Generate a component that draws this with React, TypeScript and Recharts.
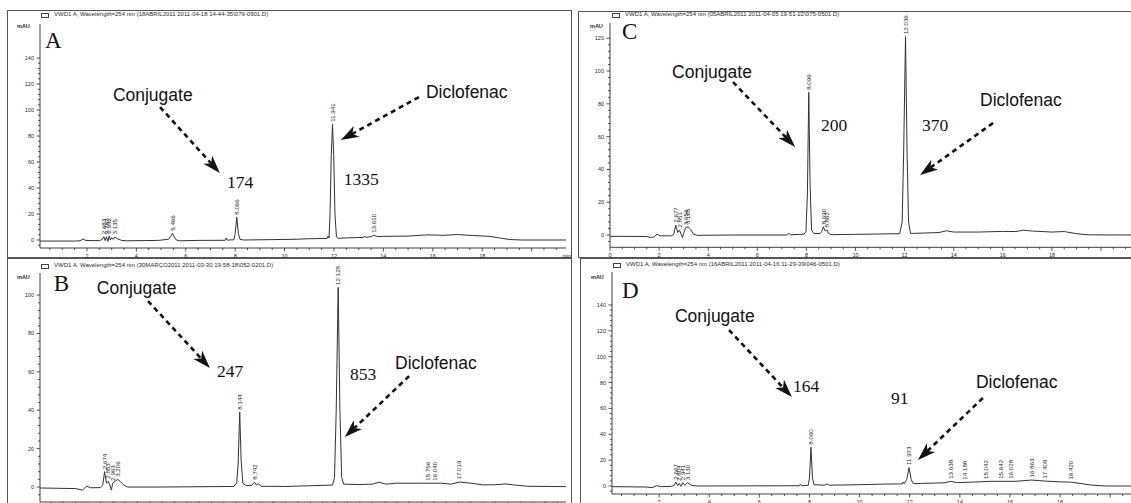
import React from "react";
import { LineChart, Line, XAxis, YAxis, ReferenceLine, ReferenceDot } from "recharts";

// ---------- data (time in min, signal in mAU) ----------
const traceA = [
  [0.1, -0.8], [1.5, -0.8], [1.72, -0.6], [1.84, 0.8], [1.96, -0.4], [2.5, -0.5], [2.6, 0.3], [2.68, 2.5], [2.74, -0.5],
  [2.79, 2.6], [2.85, -1], [2.9, 3], [2.95, 0], [3.0, 1.8], [3.05, 0.5], [3.13, 2.3], [3.25, 0.8], [3.4, -0.3], [3.6, -0.6],
  [4.9, -0.3], [5.3, 0.6], [5.4, 3], [5.466, 5.2], [5.53, 2.5], [5.62, 0], [5.75, -0.6], [6.5, -0.3], [7.6, -0.2], [7.64, 1.5],
  [7.68, -0.1], [7.95, 0.2], [8.0, 5], [8.066, 17.5], [8.13, 5], [8.2, 0.5], [8.35, 0], [9.5, 0.3], [10.5, 0.6], [11.0, 1],
  [11.72, 1.2], [11.76, 3], [11.8, 1.5], [11.84, 20], [11.89, 65], [11.941, 89], [11.99, 65], [12.04, 20], [12.1, 2.5],
  [12.16, 1.2], [12.3, 1.5], [13.2, 2], [13.24, 3], [13.28, 2], [13.5, 2.6], [13.61, 3.6], [13.75, 2.7], [14.0, 2.8],
  [15.0, 3], [15.8, 4], [16.4, 3.6], [17.0, 4.2], [17.6, 3.5], [18.3, 2.8], [18.7, 1.6], [19.1, 0.4], [19.6, 0], [21.4, 0],
];
const traceB = [
  [0.06, -0.5], [1.5, -0.8], [1.78, -1.6], [1.95, 0.5], [2.1, -0.4], [2.5, -0.3], [2.6, 1], [2.674, 8], [2.75, 2], [2.82, 3],
  [2.9, 0.5], [2.95, -1.6], [3.0, 2], [3.1, 3], [3.206, 4], [3.3, 3], [3.45, 1], [3.6, 0], [5, 0], [7.9, 0.3], [8.02, 2],
  [8.08, 12], [8.144, 39], [8.2, 14], [8.27, 2], [8.4, 0.8], [8.62, 0.8], [8.742, 2.5], [8.82, 1], [8.9, 1.8], [9.0, 0.4],
  [10, 0.3], [11.9, 1], [11.98, 5], [12.05, 40], [12.128, 104], [12.2, 40], [12.27, 5], [12.35, 1.5], [13, 1.3], [13.5, 1.5],
  [13.8, 2.5], [14.05, 1.5], [14.5, 2], [15.5, 2], [16.3, 2], [16.7, 1.5], [17.05, 2.6], [17.5, 2], [18.0, 1.1], [18.5, 1.2],
  [18.9, 1.6], [19.3, 1], [19.8, 0.4], [21.35, 0.2],
];
const traceC = [
  [0, -0.8], [1.5, -0.9], [1.65, -1.6], [1.78, -1.2], [1.92, 0.4], [2.05, -0.5], [2.5, -0.5], [2.6, 0.5], [2.677, 6],
  [2.76, 1.5], [2.83, 3], [2.9, 0.5], [2.95, -1.6], [3.0, 1], [3.08, 4.5], [3.18, 5], [3.28, 3.5], [3.4, 0.5], [3.55, -0.2],
  [5, 0], [7.2, 0], [7.28, 1], [7.36, 0.1], [7.9, 0.5], [7.98, 2], [8.04, 25], [8.096, 87], [8.15, 30], [8.21, 3], [8.3, 1],
  [8.55, 0.8], [8.62, 2], [8.69, 5], [8.76, 2.5], [8.84, 3], [8.9, 1], [9.0, 0.2], [10, 0.4], [11.8, 0.8], [11.9, 8],
  [11.96, 50], [12.036, 121], [12.1, 50], [12.16, 8], [12.24, 1], [12.4, 1], [13.4, 1.5], [13.7, 2.6], [14.0, 1.8],
  [15, 1.8], [16, 2.2], [16.5, 2.1], [16.85, 2.9], [17.2, 2.4], [18, 1.8], [18.5, 2.1], [19.0, 0.8], [19.5, 0.1], [21.22, 0],
];
const traceD = [
  [0.12, -0.5], [1.5, -0.8], [1.72, -1.3], [1.9, 0.3], [2.05, -0.5], [2.5, -0.3], [2.6, 0.5], [2.667, 3], [2.74, 0.3],
  [2.8, 2], [2.87, -0.3], [2.94, 2.5], [3.02, 0.5], [3.13, 2.5], [3.3, 0.5], [3.5, 0], [7.6, 0.2], [7.64, 1.5], [7.68, 0.2],
  [7.95, 0.6], [8.0, 6], [8.06, 30], [8.12, 6], [8.18, 1], [8.6, 0.6], [8.7, 1.5], [8.8, 0.6], [10, 1], [11.0, 1.5],
  [11.7, 1.6], [11.74, 3], [11.78, 1.8], [11.88, 5], [11.973, 14.3], [12.06, 5], [12.14, 1.8], [12.5, 2], [13.4, 2.5],
  [13.638, 3.6], [13.9, 2.6], [14.5, 3], [15.2, 3.6], [16.2, 3.6], [16.863, 4.6], [17.4, 3.8], [18.0, 3.2], [18.42, 3],
  [18.8, 2], [19.3, 0.6], [19.8, 0], [20.83, 0],
];

// peak retention-time labels: [time, apex mAU, text]
const peaksA = [[2.68, 2.5, "2.683"], [2.79, 2.6, "2.782"], [2.9, 3, "2.932"], [3.13, 2.3, "3.135"], [5.466, 5.2, "5.466"],
  [8.066, 17.5, "8.066"], [11.941, 89, "11.941"], [13.61, 3.6, "13.610"]];
const peaksB = [[2.674, 8, "2.674"], [2.82, 3, "2.853"], [3.0, 2, "2.963"], [3.206, 4, "3.206"], [8.144, 39, "8.144"],
  [8.742, 2.5, "8.742"], [12.128, 104, "12.128"], [15.756, 2, "15.756"], [16.04, 2, "16.040"], [17.019, 2.6, "17.019"]];
const peaksC = [[2.677, 6, "2.677"], [2.83, 3, "2.851"], [3.08, 4.5, "3.056"], [3.18, 5, "3.165"], [8.096, 87, "8.096"],
  [8.69, 5, "8.690"], [8.84, 3, "8.862"], [12.036, 121, "12.036"]];
const peaksD = [[2.667, 3, "2.667"], [2.8, 2, "2.804"], [2.94, 2.5, "2.941"], [3.13, 2.5, "3.130"], [8.06, 30, "8.060"],
  [11.973, 14.3, "11.973"], [13.638, 3.6, "13.638"], [14.188, 3, "14.188"], [15.042, 3.5, "15.042"], [15.642, 3.6, "15.642"],
  [16.028, 3.6, "16.028"], [16.863, 4.6, "16.863"], [17.408, 3.8, "17.408"], [18.42, 3, "18.420"]];

// annotation texts: [time, mAU (baseline), text, kind]
const notesA = [[0.3, 147.7, "A", "letter"], [3.05, 107.2, "Conjugate", "name"], [7.67, 40, "174", "num"],
  [15.72, 109.2, "Diclofenac", "name"], [12.4, 42.3, "1335", "num"]];
const notesB = [[0.62, 102.1, "B", "letter"], [2.36, 100.5, "Conjugate", "name"], [7.22, 57.3, "247", "num"],
  [14.43, 61.5, "Diclofenac", "name"], [12.61, 55.7, "853", "num"]];
const notesC = [[0.49, 119.5, "C", "letter"], [2.53, 95.7, "Conjugate", "name"], [8.59, 63.4, "200", "num"],
  [15.07, 78.7, "Diclofenac", "name"], [12.71, 63.4, "370", "num"]];
const notesD = [[0.52, 145.4, "D", "letter"], [2.63, 126.8, "Conjugate", "name"], [7.34, 72.7, "164", "num"],
  [14.64, 75.8, "Diclofenac", "name"], [11.25, 63.4, "91", "num"]];

// arrows: [t1, v1, t2 (tip), v2 (tip)]
const arrowsA = [[4.96, 102.3, 7.38, 51.5], [15.44, 110, 12.28, 76.9]];
const arrowsB = [[4.43, 96.9, 6.94, 62], [15.0, 57.8, 12.4, 26]];
const arrowsC = [[5.01, 93.3, 7.54, 53.7], [15.6, 68.3, 12.63, 36.6]];
const arrowsD = [[4.79, 120.6, 7.3, 68.8], [14.92, 68.1, 12.33, 20.1]];

const titleA = "VWD1 A, Wavelength=254 nm (18ABRIL2011 2011-04-18 14-44-35\\079-0901.D)";
const titleB = "VWD1 A, Wavelength=254 nm (30MARÇO2011 2011-03-30 19-58-18\\052-0201.D)";
const titleC = "VWD1 A, Wavelength=254 nm (05ABRIL2011 2011-04-05 19-51-22\\075-0501.D)";
const titleD = "VWD1 A, Wavelength=254 nm (16ABRIL2011 2011-04-16 11-29-39\\046-0501.D)";

const xLabelValues = [0, 2, 4, 6, 8, 10, 12, 14, 16, 18];
const yLabelStep = 20;

const SANS = "'Liberation Sans', Arial, sans-serif";
const SERIF = "'Liberation Serif', 'Times New Roman', serif";
const INK = "#2a2a2a";

const range = (a: number, b: number, s: number) => {
  const out: number[] = [];
  for (let v = a; v <= b + 1e-9; v += s) out.push(Math.round(v * 1000) / 1000);
  return out;
};

type PanelCfg = {
  trace: number[][]; peaks: any[]; notes: any[]; arrows: number[][]; title: string;
  box: { left: number; top: number; width: number; height: number };
  chart: { left: number; top: number; width: number; height: number };
  margin: { top: number; right: number; bottom: number; left: number };
  xDomain: [number, number]; yDomain: [number, number]; yMax: number; xTickLabels: boolean; unitLabel: boolean;
  titlePos: { x: number; y: number }; mauPos: { x: number; y: number };
};

const panels: PanelCfg[] = [
  {
    trace: traceA, peaks: peaksA, notes: notesA, arrows: arrowsA, title: titleA,
    box: { left: 7, top: 10, width: 565, height: 248 },
    chart: { left: 8, top: 10, width: 564, height: 248 },
    margin: { top: 14, right: 5.8, bottom: 0, left: 4 },
    xDomain: [0.1, 21.4], yDomain: [-6.15, 166.2], yMax: 140, xTickLabels: true, unitLabel: true,
    titlePos: { x: 41, y: 12 }, mauPos: { x: 17, y: 23 },
  },
  {
    trace: traceB, peaks: peaksB, notes: notesB, arrows: arrowsB, title: titleB,
    box: { left: 7, top: 258, width: 565, height: 260 },
    chart: { left: 8, top: 258, width: 564, height: 255 },
    margin: { top: 15, right: 6, bottom: 1, left: 4 },
    xDomain: [0.06, 21.35], yDomain: [-7.8, 111.5], yMax: 100, xTickLabels: false, unitLabel: false,
    titlePos: { x: 41, y: 263 }, mauPos: { x: 17, y: 274 },
  },
  {
    trace: traceC, peaks: peaksC, notes: notesC, arrows: arrowsC, title: titleC,
    box: { left: 578, top: 11, width: 560, height: 247 },
    chart: { left: 578, top: 10, width: 553, height: 250 },
    margin: { top: 13, right: 0, bottom: 2.7, left: 4 },
    xDomain: [0, 21.22], yDomain: [-7.5, 129.3], yMax: 120, xTickLabels: true, unitLabel: false,
    titlePos: { x: 612, y: 12 }, mauPos: { x: 590, y: 23 },
  },
  {
    trace: traceD, peaks: peaksD, notes: notesD, arrows: arrowsD, title: titleD,
    box: { left: 580, top: 258, width: 560, height: 260 },
    chart: { left: 578, top: 258, width: 553, height: 255 },
    margin: { top: 14, right: 0, bottom: 9, left: 6 },
    xDomain: [0.12, 20.83], yDomain: [-6.19, 165.5], yMax: 140, xTickLabels: true, unitLabel: false,
    titlePos: { x: 613, y: 262 }, mauPos: { x: 591, y: 274 },
  },
];

const isMult = (v: number, m: number) => Math.abs(v / m - Math.round(v / m)) < 1e-6;

const makeXTick = (showLabels: boolean) => (props: any) => {
  const { x, y, payload } = props;
  const v = payload.value;
  const major = isMult(v, 2);
  const labeled = showLabels && xLabelValues.includes(v);
  return (
    <g>
      <line x1={x} y1={y} x2={x} y2={y + (major ? 3.5 : 2)} stroke={INK} strokeWidth={0.8} />
      {labeled && (
        <text x={x} y={y + 9.5} textAnchor="middle" fontSize={5.5} fontFamily={SANS} fill={INK}>{v}</text>
      )}
    </g>
  );
};

const YTick = (props: any) => {
  const { x, y, payload } = props;
  const v = payload.value;
  const major = isMult(v, yLabelStep);
  return (
    <g>
      <line x1={x} y1={y} x2={x - (major ? 3.5 : 2)} y2={y} stroke={INK} strokeWidth={0.8} />
      {major && (
        <text x={x - 6} y={y + 2} textAnchor="end" fontSize={5.5} fontFamily={SANS} fill={INK}>{v}</text>
      )}
    </g>
  );
};

const ArrowShape = (p: any) => {
  const x1 = Number(p.x1), y1 = Number(p.y1), x2 = Number(p.x2), y2 = Number(p.y2);
  if (![x1, y1, x2, y2].every(Number.isFinite)) return <g />;
  const dx = x2 - x1, dy = y2 - y1;
  const L = Math.hypot(dx, dy) || 1;
  const ux = dx / L, uy = dy / L;
  const nx = -uy, ny = ux;
  const hl = 18, hw = 6;
  const bx = x2 - ux * hl, by = y2 - uy * hl;
  const mx = x2 - ux * hl * 0.72, my = y2 - uy * hl * 0.72;
  return (
    <g>
      <line x1={x1} y1={y1} x2={mx} y2={my} stroke="#111" strokeWidth={2.6} strokeDasharray="5 4" />
      <polygon
        points={`${x2},${y2} ${bx + nx * hw},${by + ny * hw} ${mx},${my} ${bx - nx * hw},${by - ny * hw}`}
        fill="#111"
      />
    </g>
  );
};

const noteShape = (text: string, kind: string) => (p: any) => {
  const { cx, cy } = p;
  if (kind === "letter")
    return <text x={cx} y={cy} fontSize={23} fontFamily={SERIF} fill="#111">{text}</text>;
  if (kind === "num")
    return <text x={cx} y={cy} fontSize={17.5} fontFamily={SERIF} fill="#111">{text}</text>;
  return <text x={cx} y={cy} fontSize={17.5} fontFamily={SANS} fill="#111">{text}</text>;
};

const peakShape = (text: string) => (p: any) => {
  const { cx, cy } = p;
  const x = cx + 2.2, y = cy - 2.5;
  return (
    <text x={x} y={y} transform={`rotate(-90 ${x} ${y})`} fontSize={6.2} fontFamily={SANS} fill={INK}>{text}</text>
  );
};

const unitShape = (p: any) => {
  const { cx, cy } = p;
  return <text x={cx} y={cy + 9.5} fontSize={5.5} fontFamily={SANS} fill={INK}>min</text>;
};

const Panel = ({ cfg }: { cfg: PanelCfg }) => {
  const data = cfg.trace.map(([t, v]) => ({ t, v }));
  const xTicks = range(0, 21, 0.5).filter((v) => v >= cfg.xDomain[0] - 1e-9 && v <= cfg.xDomain[1]);
  const yTicks = range(-4, cfg.yMax, 4);
  return (
    <div style={{ position: "absolute", left: cfg.chart.left, top: cfg.chart.top }}>
      <LineChart width={cfg.chart.width} height={cfg.chart.height} data={data} margin={cfg.margin}>
        <XAxis
          type="number" dataKey="t" domain={cfg.xDomain} allowDataOverflow ticks={xTicks} interval={0}
          tick={makeXTick(cfg.xTickLabels)} tickLine={false} tickSize={0} tickMargin={0} height={10}
          axisLine={{ stroke: INK, strokeWidth: 0.9 }}
        />
        <YAxis
          type="number" domain={cfg.yDomain} allowDataOverflow ticks={yTicks} interval={0}
          tick={YTick} tickLine={false} tickSize={0} tickMargin={0} width={28}
          axisLine={{ stroke: INK, strokeWidth: 0.9 }}
        />
        <Line type="linear" dataKey="v" stroke="#333" strokeWidth={1} dot={false} isAnimationActive={false} />
        {cfg.peaks.map(([t, v, text], i) => (
          <ReferenceDot key={"p" + i} x={t} y={v} r={1} ifOverflow="visible" shape={peakShape(text)} />
        ))}
        {cfg.notes.map(([t, v, text, kind], i) => (
          <ReferenceDot key={"n" + i} x={t} y={v} r={1} ifOverflow="visible" shape={noteShape(text, kind)} />
        ))}
        {cfg.arrows.map(([t1, v1, t2, v2], i) => (
          <ReferenceLine
            key={"a" + i} ifOverflow="visible"
            segment={[{ x: t1, y: v1 }, { x: t2, y: v2 }]}
            shape={ArrowShape}
          />
        ))}
        {cfg.unitLabel && (
          <ReferenceDot x={cfg.xDomain[1] - 0.15} y={cfg.yDomain[0]} r={1} ifOverflow="visible" shape={unitShape} />
        )}
      </LineChart>
    </div>
  );
};

export default function App() {
  return (
    <div style={{ position: "absolute", left: 0, top: 0, width: 1131, height: 503, overflow: "hidden", background: "#fff" }}>
      {panels.map((cfg, i) => (
        <div
          key={"b" + i}
          style={{
            position: "absolute", left: cfg.box.left, top: cfg.box.top, width: cfg.box.width, height: cfg.box.height,
            border: "1px solid #555", boxSizing: "border-box",
          }}
        />
      ))}
      {panels.map((cfg, i) => (
        <Panel key={"c" + i} cfg={cfg} />
      ))}
      {panels.map((cfg, i) => (
        <div key={"t" + i}>
          <div
            style={{
              position: "absolute", left: cfg.titlePos.x, top: cfg.titlePos.y + 1, width: 6, height: 2.5,
              border: "0.8px solid #444",
            }}
          />
          <div
            style={{
              position: "absolute", left: cfg.titlePos.x + 13, top: cfg.titlePos.y - 1, fontSize: 6, lineHeight: "7px",
              fontFamily: SANS, color: INK, whiteSpace: "nowrap",
            }}
          >
            {cfg.title}
          </div>
          <div
            style={{
              position: "absolute", left: cfg.mauPos.x, top: cfg.mauPos.y, fontSize: 5.5, lineHeight: "6px",
              fontFamily: SANS, color: INK, fontWeight: "bold",
            }}
          >
            mAU
          </div>
        </div>
      ))}
    </div>
  );
}
